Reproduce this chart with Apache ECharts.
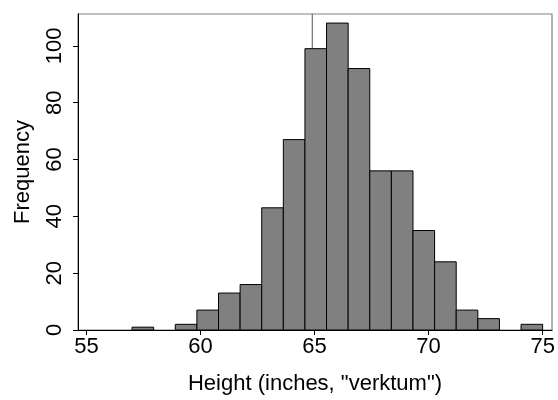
<!DOCTYPE html>
<html>
<head>
<meta charset="utf-8">
<script src="https://cdn.jsdelivr.net/npm/echarts@6/dist/echarts.min.js"></script>
<style>
html,body{margin:0;padding:0;background:#fff;}
#chart{width:558px;height:400px;}
</style>
</head>
<body>
<div id="chart"></div>
<script>
// Histogram definition (19 bins from 57 to 75)
const binMin = 57;
const binMax = 75;
const counts = [1, 0, 2, 7, 13, 16, 43, 67, 99, 108, 92, 56, 56, 35, 24, 7, 4, 0, 2];
const xTicks = [55, 60, 65, 70, 75];
const yTicks = [0, 20, 40, 60, 80, 100];
const refLine = 64.9;
const xTitle = 'Height (inches, "verktum")';
const yTitle = 'Frequency';

const binWidth = (binMax - binMin) / counts.length;
const histData = counts.map((c, i) => [binMin + i * binWidth, binMin + (i + 1) * binWidth, c]);

const FONT = '"Liberation Sans", Arial, Helvetica, sans-serif';
const chart = echarts.init(document.getElementById('chart'), null, {renderer: 'canvas'});
chart.setOption({
  animation: false,
  backgroundColor: '#fff',
  grid: {left: 78, right: 6, top: 14, bottom: 65, show: true, borderColor: '#808080', borderWidth: 1.2, backgroundColor: 'transparent'},
  xAxis: {
    type: 'value', min: 54.63, max: 75.41,
    name: xTitle, nameLocation: 'middle', nameGap: 43,
    nameTextStyle: {fontFamily: FONT, fontSize: 22, color: '#000'},
    axisLine: {show: true, onZero: false, lineStyle: {color: '#000', width: 1}},
    axisTick: {show: true, length: 5, customValues: xTicks, lineStyle: {color: '#000'}},
    axisLabel: {customValues: xTicks, fontFamily: FONT, fontSize: 22, color: '#000', margin: 6},
    splitLine: {show: false}
  },
  yAxis: {
    type: 'value', min: 0, max: 111.2,
    name: yTitle, nameLocation: 'middle', nameGap: 44,
    nameTextStyle: {fontFamily: FONT, fontSize: 22, color: '#000'},
    axisLine: {show: true, lineStyle: {color: '#000', width: 1}},
    axisTick: {show: true, length: 5, customValues: yTicks, lineStyle: {color: '#000'}},
    axisLabel: {customValues: yTicks, rotate: 90, fontFamily: FONT, fontSize: 22, color: '#000', margin: 12},
    splitLine: {show: false}
  },
  series: [
    {
      type: 'line', silent: true, symbol: 'none', z: 1,
      data: [[refLine, 0], [refLine, 111.2]],
      lineStyle: {color: '#555', width: 1}
    },
    {
      type: 'custom', z: 2,
      data: histData,
      encode: {x: [0, 1], y: 2},
      renderItem: function (params, api) {
        const h = api.value(2);
        if (!h) return null;
        const p0 = api.coord([api.value(0), h]);
        const p1 = api.coord([api.value(1), 0]);
        return {
          type: 'rect',
          shape: {x: p0[0], y: p0[1], width: p1[0] - p0[0], height: p1[1] - p0[1]},
          style: {fill: '#808080', stroke: '#000', lineWidth: 1}
        };
      }
    }
  ]
});
</script>
</body>
</html>
